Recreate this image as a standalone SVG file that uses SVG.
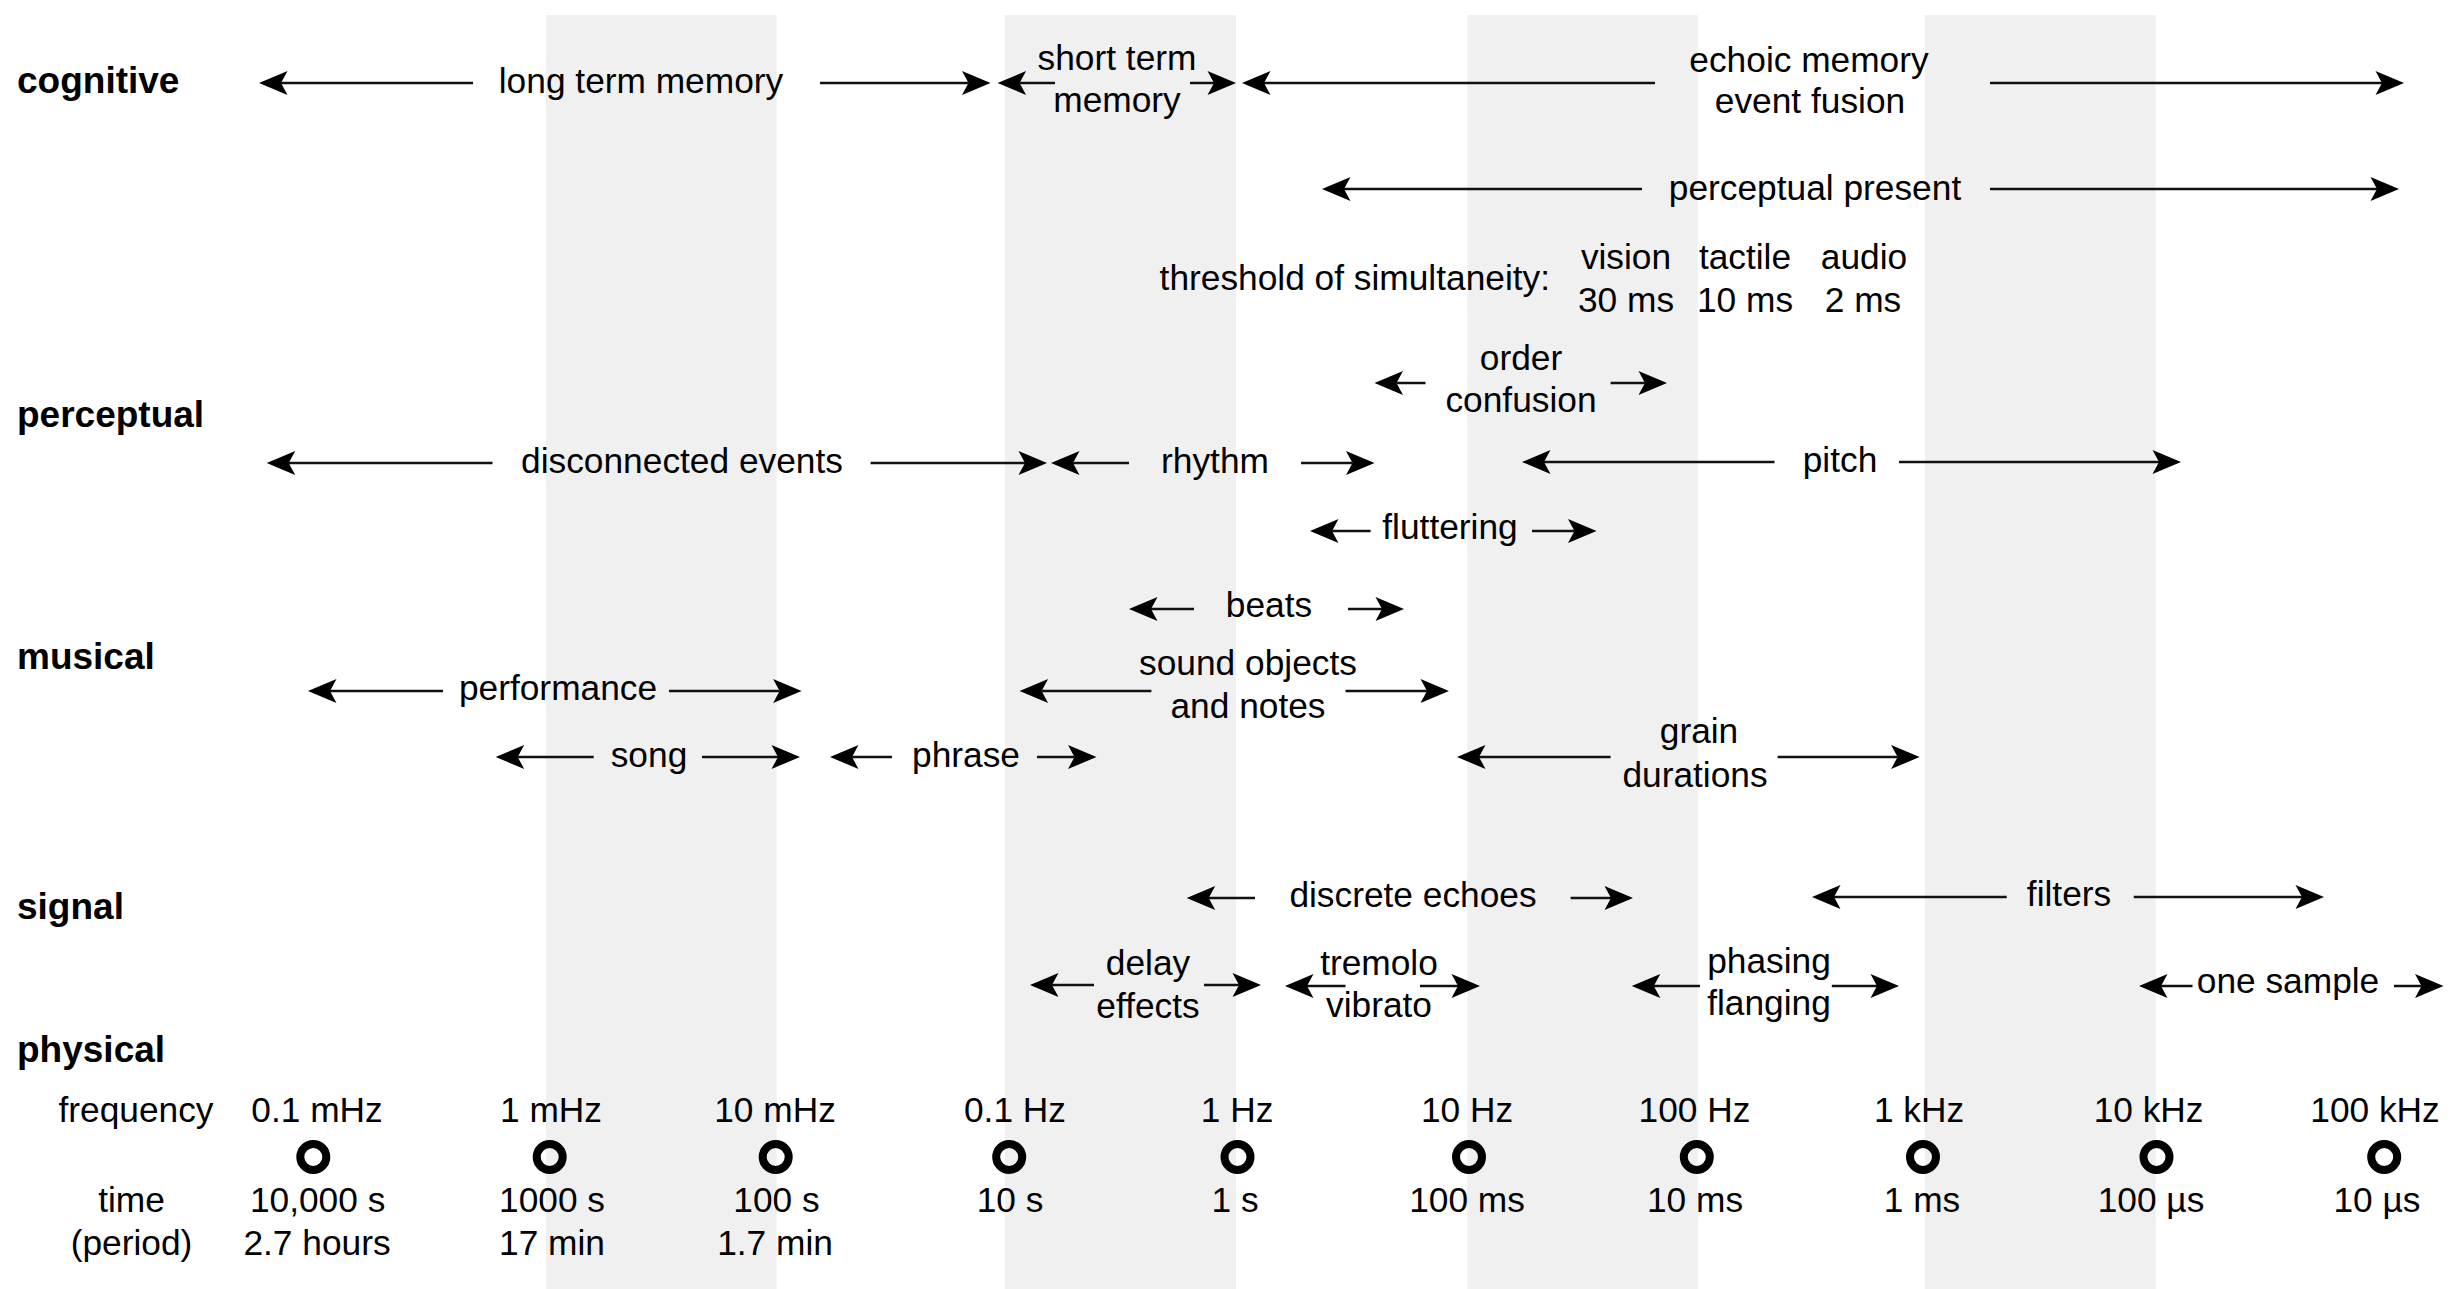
<svg xmlns="http://www.w3.org/2000/svg" width="2453" height="1289" viewBox="0 0 2453 1289">
<style>
text{font-family:"Liberation Sans",Arial,Helvetica,sans-serif;fill:#000}
.t{font-size:35.3px;text-anchor:middle}
.h{font-size:37px;font-weight:bold}
.band{fill:#f0f0f0}
.ar{stroke:#111;stroke-width:2.5;fill:none;marker-end:url(#ah)}
.tick{fill:none;stroke:#000;stroke-width:8}
</style>
<defs>
<marker id="ah" viewBox="-30 -14 32 28" refX="-22" refY="0" markerWidth="32" markerHeight="28" markerUnits="userSpaceOnUse" orient="auto">
<path d="M0,0 L-28.5,-12 L-22,0 L-28.5,12 Z" fill="#000"/>
</marker>
</defs>
<rect width="2453" height="1289" fill="#fff"/>
<g id="bands">
<rect class="band" x="546" y="15" width="230.7" height="1274"/>
<rect class="band" x="1005" y="15" width="231" height="1274"/>
<rect class="band" x="1467.3" y="15" width="230.4" height="1274"/>
<rect class="band" x="1925" y="15" width="230.7" height="1274"/>
</g>
<g id="row-labels">
<text class="h" x="17" y="93">cognitive</text>
<text class="h" x="17" y="427">perceptual</text>
<text class="h" x="17" y="669">musical</text>
<text class="h" x="17" y="919">signal</text>
<text class="h" x="17" y="1062">physical</text>
</g>
<g id="connectors">
<line class="ar" x1="473" y1="83" x2="281" y2="83"/>
<line class="ar" x1="820" y1="83" x2="968.5" y2="83"/>
<line class="ar" x1="1055" y1="83" x2="1019.6" y2="83"/>
<line class="ar" x1="1190" y1="83" x2="1214" y2="83"/>
<line class="ar" x1="1655" y1="83" x2="1264" y2="83"/>
<line class="ar" x1="1990" y1="83" x2="2382" y2="83"/>
<line class="ar" x1="1642" y1="189" x2="1344" y2="189"/>
<line class="ar" x1="1990" y1="189" x2="2377" y2="189"/>
<line class="ar" x1="1425.5" y1="383" x2="1396.5" y2="383"/>
<line class="ar" x1="1610.6" y1="383" x2="1645" y2="383"/>
<line class="ar" x1="492.5" y1="463" x2="288.7" y2="463"/>
<line class="ar" x1="870.6" y1="463" x2="1025" y2="463"/>
<line class="ar" x1="1129" y1="463" x2="1073" y2="463"/>
<line class="ar" x1="1301" y1="463" x2="1352.5" y2="463"/>
<line class="ar" x1="1774.5" y1="462" x2="1544" y2="462"/>
<line class="ar" x1="1899" y1="462" x2="2159" y2="462"/>
<line class="ar" x1="1370.6" y1="531" x2="1332" y2="531"/>
<line class="ar" x1="1532" y1="531" x2="1574.5" y2="531"/>
<line class="ar" x1="1194" y1="609" x2="1151" y2="609"/>
<line class="ar" x1="1348" y1="609" x2="1382" y2="609"/>
<line class="ar" x1="443" y1="691" x2="330" y2="691"/>
<line class="ar" x1="669" y1="691" x2="779.6" y2="691"/>
<line class="ar" x1="1151.4" y1="691" x2="1041.6" y2="691"/>
<line class="ar" x1="1345.5" y1="691" x2="1427" y2="691"/>
<line class="ar" x1="593.7" y1="757" x2="517.7" y2="757"/>
<line class="ar" x1="702" y1="757" x2="778" y2="757"/>
<line class="ar" x1="892" y1="757" x2="852" y2="757"/>
<line class="ar" x1="1037" y1="757" x2="1074.5" y2="757"/>
<line class="ar" x1="1610.6" y1="757" x2="1479" y2="757"/>
<line class="ar" x1="1777.6" y1="757" x2="1897.6" y2="757"/>
<line class="ar" x1="1255" y1="898" x2="1208.7" y2="898"/>
<line class="ar" x1="1570.6" y1="898" x2="1611" y2="898"/>
<line class="ar" x1="2006.7" y1="897" x2="1834" y2="897"/>
<line class="ar" x1="2133.7" y1="897" x2="2302" y2="897"/>
<line class="ar" x1="1094" y1="985" x2="1052" y2="985"/>
<line class="ar" x1="1204" y1="985" x2="1239" y2="985"/>
<line class="ar" x1="1345.5" y1="986" x2="1307" y2="986"/>
<line class="ar" x1="1420" y1="986" x2="1458" y2="986"/>
<line class="ar" x1="1700" y1="986" x2="1653.8" y2="986"/>
<line class="ar" x1="1831.8" y1="986" x2="1877" y2="986"/>
<line class="ar" x1="2192.5" y1="986" x2="2161" y2="986"/>
<line class="ar" x1="2394" y1="986" x2="2421.5" y2="986"/>
</g>
<g id="long-term-memory"><text class="t" x="641" y="93">long term memory</text></g>
<g id="short-term-memory"><text class="t" x="1117" y="70">short term</text><text class="t" x="1117" y="112">memory</text></g>
<g id="echoic-memory"><text class="t" x="1809" y="72">echoic memory</text><text class="t" x="1810" y="113">event fusion</text></g>
<g id="perceptual-present"><text class="t" x="1815" y="200">perceptual present</text></g>
<g id="threshold">
<text class="t" x="1550" y="290" style="text-anchor:end">threshold of simultaneity:</text>
<text class="t" x="1626" y="269">vision</text><text class="t" x="1626" y="312">30 ms</text>
<text class="t" x="1745" y="269">tactile</text><text class="t" x="1745" y="312">10 ms</text>
<text class="t" x="1864" y="269">audio</text><text class="t" x="1863" y="312">2 ms</text>
</g>
<g id="order-confusion"><text class="t" x="1521" y="370">order</text><text class="t" x="1521" y="412">confusion</text></g>
<g id="disconnected-events"><text class="t" x="682" y="473">disconnected events</text></g>
<g id="rhythm"><text class="t" x="1215" y="473">rhythm</text></g>
<g id="pitch"><text class="t" x="1840" y="472">pitch</text></g>
<g id="fluttering"><text class="t" x="1450" y="539">fluttering</text></g>
<g id="beats"><text class="t" x="1269" y="617">beats</text></g>
<g id="performance"><text class="t" x="558" y="700">performance</text></g>
<g id="sound-objects"><text class="t" x="1248" y="675">sound objects</text><text class="t" x="1248" y="718">and notes</text></g>
<g id="song"><text class="t" x="649" y="767">song</text></g>
<g id="phrase"><text class="t" x="966" y="767">phrase</text></g>
<g id="grain-durations"><text class="t" x="1699" y="743">grain</text><text class="t" x="1695" y="787">durations</text></g>
<g id="discrete-echoes"><text class="t" x="1413" y="907">discrete echoes</text></g>
<g id="filters"><text class="t" x="2069" y="906">filters</text></g>
<g id="delay-effects"><text class="t" x="1148" y="975">delay</text><text class="t" x="1148" y="1018">effects</text></g>
<g id="tremolo-vibrato"><text class="t" x="1379" y="975">tremolo</text><text class="t" x="1379" y="1017">vibrato</text></g>
<g id="phasing-flanging"><text class="t" x="1769" y="973">phasing</text><text class="t" x="1769" y="1015">flanging</text></g>
<g id="one-sample"><text class="t" x="2288" y="993">one sample</text></g>
<g id="scale">
<text class="t" x="136" y="1122">frequency</text>
<text class="t" x="131.5" y="1212">time</text>
<text class="t" x="131.5" y="1255">(period)</text>
<text class="t" x="317" y="1122">0.1 mHz</text>
<text class="t" x="551" y="1122">1 mHz</text>
<text class="t" x="775" y="1122">10 mHz</text>
<text class="t" x="1015" y="1122">0.1 Hz</text>
<text class="t" x="1237" y="1122">1 Hz</text>
<text class="t" x="1467" y="1122">10 Hz</text>
<text class="t" x="1694.5" y="1122">100 Hz</text>
<text class="t" x="1919" y="1122">1 kHz</text>
<text class="t" x="2148.6" y="1122">10 kHz</text>
<text class="t" x="2375" y="1122">100 kHz</text>
<circle class="tick" cx="313.3" cy="1157" r="13"/>
<circle class="tick" cx="549.7" cy="1157" r="13"/>
<circle class="tick" cx="775.7" cy="1157" r="13"/>
<circle class="tick" cx="1009.2" cy="1157" r="13"/>
<circle class="tick" cx="1237.5" cy="1157" r="13"/>
<circle class="tick" cx="1469" cy="1157" r="13"/>
<circle class="tick" cx="1696.8" cy="1157" r="13"/>
<circle class="tick" cx="1923" cy="1157" r="13"/>
<circle class="tick" cx="2156.5" cy="1157" r="13"/>
<circle class="tick" cx="2384.2" cy="1157" r="13"/>
<text class="t" x="317.6" y="1212">10,000 s</text>
<text class="t" x="552" y="1212">1000 s</text>
<text class="t" x="776.5" y="1212">100 s</text>
<text class="t" x="1010" y="1212">10 s</text>
<text class="t" x="1235" y="1212">1 s</text>
<text class="t" x="1467" y="1212">100 ms</text>
<text class="t" x="1695" y="1212">10 ms</text>
<text class="t" x="1922" y="1212">1 ms</text>
<text class="t" x="2151" y="1212">100 µs</text>
<text class="t" x="2377" y="1212">10 µs</text>
<text class="t" x="317" y="1255">2.7 hours</text>
<text class="t" x="552" y="1255">17 min</text>
<text class="t" x="775" y="1255">1.7 min</text>
</g>
</svg>
